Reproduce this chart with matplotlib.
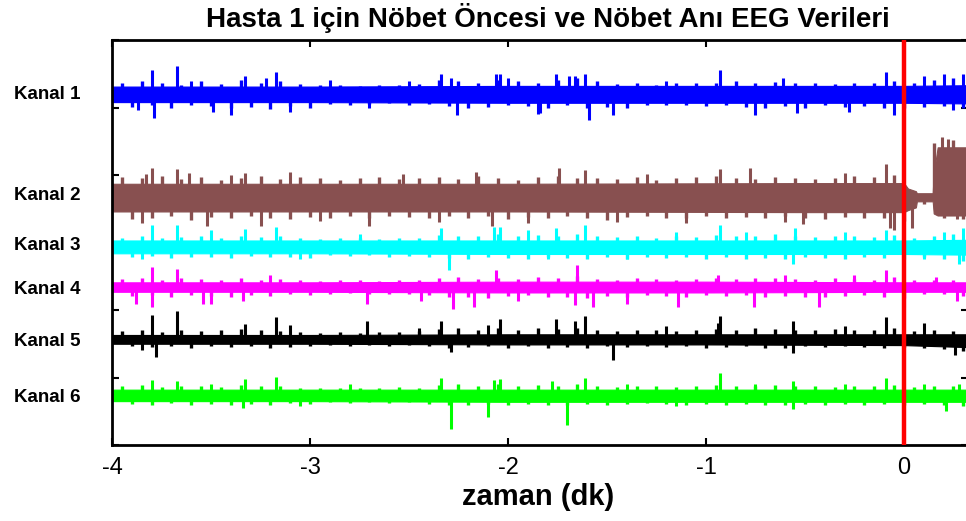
import numpy as np
import matplotlib
matplotlib.use("Agg")
import matplotlib.pyplot as plt
from matplotlib.transforms import blended_transform_factory

# ---------------- data ----------------
channel_names = ["Kanal 1", "Kanal 2", "Kanal 3", "Kanal 4", "Kanal 5", "Kanal 6"]
channel_colors = ["#0000FF", "#885050", "#00FFFF", "#FF00FF", "#000000", "#00FF00"]
baselines = [5.19, 3.67, 2.93, 2.34, 1.56, 0.73]
label_y = [5.19, 3.69, 2.95, 2.30, 1.53, 0.70]

x_ticks = [-4, -3, -2, -1, 0]
y_ticks = [0, 1, 2, 3, 4, 5, 6]
seizure_onset = 0.0

# solid core band (upper / lower half-width) per channel
env_t = [-4.0, -3.0, -2.0, -1.0, 0.0, 0.323]
ch1_up = [0.12, 0.12, 0.13, 0.13, 0.13, 0.14]
ch1_lo = [0.11, 0.11, 0.12, 0.12, 0.12, 0.13]
ch3_up = [0.10, 0.10, 0.10, 0.10, 0.10, 0.11]
ch3_lo = [0.09, 0.09, 0.10, 0.10, 0.10, 0.11]
ch4_up = [0.07, 0.07, 0.08, 0.08, 0.07, 0.07]
ch4_lo = [0.07, 0.07, 0.08, 0.08, 0.07, 0.07]
ch5_up = [0.07, 0.07, 0.08, 0.08, 0.08, 0.08]
ch5_lo = [0.06, 0.06, 0.07, 0.07, 0.08, 0.11]
ch6_up = [0.09, 0.09, 0.09, 0.09, 0.09, 0.09]
ch6_lo = [0.08, 0.08, 0.09, 0.09, 0.09, 0.09]

ch2_t = [-4.0, -2.0, -0.5, 0.0, 0.02, 0.06, 0.065, 0.145, 0.15, 0.17, 0.323]
ch2_up = [0.20, 0.20, 0.21, 0.21, 0.13, 0.09, 0.06, 0.06, 0.35, 0.74, 0.74]
ch2_lo = [0.21, 0.21, 0.22, 0.22, 0.19, 0.15, 0.06, 0.06, 0.24, 0.27, 0.27]

# fluctuation peaks every 0.1 min (up peaks at grid, down peaks half a step later)
grid_t = [-3.95, -3.85, -3.75, -3.65, -3.55, -3.45, -3.35, -3.25, -3.15, -3.05,
          -2.95, -2.85, -2.75, -2.65, -2.55, -2.45, -2.35, -2.25, -2.15, -2.05,
          -1.95, -1.85, -1.75, -1.65, -1.55, -1.45, -1.35, -1.25, -1.15, -1.05,
          -0.95, -0.85, -0.75, -0.65, -0.55, -0.45, -0.35, -0.25, -0.15, -0.05,
          0.05, 0.15, 0.25]
ch1_pk_up = [0.18, 0.20, 0.17, 0.15, 0.20, 0.16, 0.22, 0.18, 0.20, 0.16,
             0.14, 0.15, 0.13, 0.15, 0.14, 0.16, 0.22, 0.20, 0.18, 0.22,
             0.20, 0.18, 0.22, 0.24, 0.20, 0.16, 0.17, 0.15, 0.18, 0.17,
             0.18, 0.20, 0.17, 0.19, 0.18, 0.17, 0.16, 0.18, 0.17, 0.20,
             0.17, 0.22, 0.24]
ch1_pk_lo = [0.18, 0.16, 0.20, 0.15, 0.17, 0.19, 0.18, 0.21, 0.17, 0.19,
             0.14, 0.15, 0.14, 0.13, 0.15, 0.14, 0.17, 0.20, 0.18, 0.16,
             0.17, 0.20, 0.16, 0.19, 0.18, 0.20, 0.15, 0.16, 0.15, 0.17,
             0.16, 0.18, 0.20, 0.17, 0.19, 0.16, 0.18, 0.17, 0.19, 0.20,
             0.18, 0.17, 0.20]
ch2_pk_up = [0.30, 0.28, 0.32, 0.27, 0.30, 0.26, 0.29, 0.31, 0.27, 0.30,
             0.28, 0.26, 0.29, 0.30, 0.27, 0.28, 0.30, 0.27, 0.31, 0.28,
             0.26, 0.30, 0.32, 0.28, 0.29, 0.27, 0.30, 0.26, 0.28, 0.30,
             0.31, 0.29, 0.27, 0.30, 0.28, 0.27, 0.29, 0.31, 0.30, 0.33,
             0.10, 0.80, 0.85]
ch2_pk_lo = [0.32, 0.30, 0.27, 0.33, 0.29, 0.31, 0.28, 0.30, 0.32, 0.29,
             0.31, 0.28, 0.30, 0.27, 0.29, 0.31, 0.28, 0.30, 0.27, 0.32,
             0.29, 0.31, 0.28, 0.30, 0.33, 0.29, 0.27, 0.31, 0.30, 0.28,
             0.30, 0.29, 0.31, 0.28, 0.30, 0.32, 0.29, 0.31, 0.30, 0.35,
             0.10, 0.30, 0.32]
ch3_pk_up = [0.14, 0.16, 0.13, 0.15, 0.17, 0.14, 0.16, 0.15, 0.17, 0.13,
             0.12, 0.13, 0.14, 0.12, 0.14, 0.13, 0.18, 0.16, 0.17, 0.19,
             0.16, 0.18, 0.17, 0.19, 0.16, 0.15, 0.17, 0.14, 0.16, 0.15,
             0.18, 0.16, 0.17, 0.19, 0.16, 0.15, 0.17, 0.16, 0.15, 0.18,
             0.14, 0.17, 0.19]
ch3_pk_lo = [0.15, 0.13, 0.16, 0.14, 0.15, 0.16, 0.13, 0.15, 0.14, 0.16,
             0.12, 0.13, 0.12, 0.14, 0.13, 0.14, 0.16, 0.18, 0.15, 0.16,
             0.17, 0.15, 0.16, 0.18, 0.15, 0.17, 0.14, 0.16, 0.15, 0.17,
             0.15, 0.17, 0.16, 0.18, 0.15, 0.16, 0.17, 0.15, 0.16, 0.17,
             0.15, 0.17, 0.20]
ch4_pk_up = [0.12, 0.14, 0.11, 0.13, 0.12, 0.10, 0.14, 0.11, 0.12, 0.10,
             0.09, 0.10, 0.11, 0.09, 0.11, 0.10, 0.13, 0.15, 0.12, 0.14,
             0.12, 0.15, 0.13, 0.16, 0.12, 0.11, 0.13, 0.12, 0.11, 0.12,
             0.14, 0.12, 0.13, 0.14, 0.12, 0.11, 0.13, 0.12, 0.11, 0.15,
             0.11, 0.10, 0.11]
ch4_pk_lo = [0.13, 0.12, 0.14, 0.12, 0.13, 0.14, 0.12, 0.13, 0.11, 0.12,
             0.10, 0.09, 0.10, 0.11, 0.10, 0.12, 0.15, 0.14, 0.16, 0.13,
             0.12, 0.14, 0.15, 0.16, 0.13, 0.14, 0.12, 0.13, 0.15, 0.12,
             0.13, 0.12, 0.14, 0.13, 0.15, 0.14, 0.13, 0.12, 0.14, 0.16,
             0.10, 0.11, 0.13]
ch5_pk_up = [0.13, 0.15, 0.12, 0.14, 0.13, 0.15, 0.16, 0.14, 0.13, 0.12,
             0.10, 0.11, 0.10, 0.12, 0.11, 0.13, 0.16, 0.18, 0.15, 0.17,
             0.14, 0.18, 0.16, 0.17, 0.14, 0.13, 0.14, 0.15, 0.13, 0.14,
             0.16, 0.15, 0.17, 0.16, 0.14, 0.15, 0.16, 0.14, 0.15, 0.17,
             0.13, 0.14, 0.13]
ch5_pk_lo = [0.09, 0.11, 0.10, 0.12, 0.10, 0.11, 0.10, 0.12, 0.11, 0.10,
             0.08, 0.09, 0.08, 0.09, 0.08, 0.10, 0.12, 0.11, 0.10, 0.12,
             0.10, 0.12, 0.11, 0.13, 0.10, 0.11, 0.10, 0.11, 0.10, 0.12,
             0.11, 0.10, 0.13, 0.12, 0.10, 0.11, 0.10, 0.11, 0.12, 0.11,
             0.12, 0.14, 0.16]
ch6_pk_up = [0.14, 0.16, 0.13, 0.15, 0.14, 0.13, 0.16, 0.15, 0.14, 0.12,
             0.11, 0.12, 0.11, 0.12, 0.13, 0.12, 0.16, 0.17, 0.15, 0.17,
             0.14, 0.16, 0.15, 0.17, 0.14, 0.13, 0.15, 0.14, 0.13, 0.14,
             0.16, 0.15, 0.14, 0.16, 0.15, 0.14, 0.13, 0.15, 0.14, 0.16,
             0.13, 0.15, 0.14]
ch6_pk_lo = [0.12, 0.14, 0.11, 0.13, 0.12, 0.14, 0.12, 0.13, 0.11, 0.12,
             0.10, 0.11, 0.10, 0.11, 0.10, 0.12, 0.14, 0.13, 0.12, 0.14,
             0.12, 0.13, 0.14, 0.12, 0.13, 0.12, 0.11, 0.12, 0.13, 0.12,
             0.13, 0.12, 0.14, 0.13, 0.12, 0.13, 0.12, 0.13, 0.12, 0.14,
             0.12, 0.13, 0.15]

# large spikes (time, signed amplitude) per channel
ch1_spk_t = [-3.87, -3.80, -3.79, -3.67, -3.60, -3.49, -3.40, -3.33, -3.22, -3.17, -3.10,
             -2.90, -2.70, -2.50, -2.34, -2.29, -2.26, -2.06, -2.04, -2.00, -1.85, -1.84,
             -1.76, -1.69, -1.66, -1.61, -1.59, -1.47, -1.20, -0.93, -0.75, -0.61, -0.54,
             -0.28, -0.09, -0.05, 0.10, 0.20, 0.25, 0.30]
ch1_spk_a = [-0.23, 0.37, -0.34, 0.43, 0.20, -0.25, -0.30, 0.27, 0.25, 0.33, -0.25,
             0.22, -0.20, 0.20, 0.30, 0.25, -0.30, 0.30, 0.30, 0.25, -0.28, -0.27,
             0.30, 0.28, 0.28, 0.30, -0.37, -0.30, 0.20, 0.37, -0.30, 0.25, -0.27,
             -0.25, 0.33, -0.30, 0.27, 0.30, -0.22, 0.30]

ch2_spk_t = [-3.85, -3.83, -3.80, -3.67, -3.61, -3.52, -3.40, -3.33, -3.25, -3.10, -2.95,
             -2.70, -2.53, -2.35, -2.16, -2.08, -1.90, -1.74, -1.61, -1.45, -1.30, -1.10,
             -0.93, -0.78, -0.60, -0.51, -0.30, -0.09, -0.07, -0.05, 0.04, 0.19, 0.22, 0.27]
ch2_spk_a = [-0.38, 0.35, 0.43, 0.42, 0.36, -0.42, 0.33, 0.36, -0.43, 0.37, -0.35,
             -0.43, 0.35, -0.36, 0.37, -0.43, -0.38, 0.43, 0.40, -0.36, 0.35, -0.38,
             0.42, 0.43, -0.36, -0.40, 0.36, 0.49, -0.46, -0.48, -0.45, 0.90, 0.86, -0.32]

ch3_spk_t = [-3.85, -3.80, -3.67, -3.50, -3.33, -3.17, -3.05, -2.75, -2.34, -2.30, -2.07,
             -2.04, -1.90, -1.80, -1.76, -1.61, -1.40, -1.15, -0.93, -0.80, -0.56, -0.55,
             -0.30, -0.09, 0.10, 0.20, 0.28, 0.30]
ch3_spk_a = [-0.17, 0.33, 0.33, 0.25, 0.27, 0.30, -0.17, 0.20, 0.28, -0.33, 0.30,
             0.30, 0.25, -0.18, 0.28, 0.33, -0.18, 0.22, 0.33, 0.22, -0.25, 0.28,
             0.22, 0.25, -0.18, 0.22, -0.25, 0.28]

ch4_spk_t = [-3.88, -3.80, -3.80, -3.67, -3.54, -3.50, -3.34, -3.20, -2.71, -2.44, -2.28,
             -2.17, -2.06, -1.95, -1.66, -1.65, -1.57, -1.40, -1.14, -0.94, -0.76, -0.60,
             -0.43, -0.25, -0.09, 0.00, 0.16, 0.27]
ch4_spk_a = [-0.25, 0.30, -0.30, 0.27, -0.25, -0.25, -0.20, 0.18, -0.25, -0.20, -0.33,
             -0.30, 0.25, -0.20, -0.27, 0.33, -0.30, -0.25, -0.30, 0.18, -0.30, 0.18,
             -0.30, 0.18, 0.25, -0.30, 0.15, -0.20]

ch5_spk_t = [-3.85, -3.80, -3.78, -3.67, -3.33, -3.17, -3.10, -2.71, -2.45, -2.34, -2.29,
             -2.10, -2.04, -1.76, -1.66, -1.61, -1.47, -1.20, -0.94, -0.93, -0.56, -0.56,
             -0.30, -0.09, 0.10, 0.26]
ch5_spk_a = [-0.15, 0.37, -0.25, 0.42, 0.23, 0.33, 0.22, 0.27, 0.18, 0.28, -0.18,
             0.22, 0.30, 0.30, 0.28, 0.35, -0.30, 0.20, 0.25, 0.35, 0.27, -0.20,
             0.20, 0.33, 0.25, -0.22]

ch6_spk_t = [-3.80, -3.67, -3.50, -3.34, -3.33, -3.17, -3.05, -2.80, -2.34, -2.29, -2.10,
             -2.07, -2.04, -1.78, -1.70, -1.61, -1.40, -1.15, -0.93, -0.75, -0.56, -0.56,
             -0.30, -0.09, 0.10, 0.21, 0.28]
ch6_spk_a = [0.24, 0.22, 0.18, -0.18, 0.25, 0.28, -0.15, 0.18, 0.27, -0.50, -0.31,
             0.24, 0.25, 0.22, -0.43, 0.27, 0.18, -0.15, 0.34, 0.18, 0.22, -0.20,
             0.18, 0.27, 0.18, -0.22, 0.18]

env_up = [ch1_up, ch2_up, ch3_up, ch4_up, ch5_up, ch6_up]
env_lo = [ch1_lo, ch2_lo, ch3_lo, ch4_lo, ch5_lo, ch6_lo]
env_times = [env_t, ch2_t, env_t, env_t, env_t, env_t]
pk_up = [ch1_pk_up, ch2_pk_up, ch3_pk_up, ch4_pk_up, ch5_pk_up, ch6_pk_up]
pk_lo = [ch1_pk_lo, ch2_pk_lo, ch3_pk_lo, ch4_pk_lo, ch5_pk_lo, ch6_pk_lo]
spk_t = [ch1_spk_t, ch2_spk_t, ch3_spk_t, ch4_spk_t, ch5_spk_t, ch6_spk_t]
spk_a = [ch1_spk_a, ch2_spk_a, ch3_spk_a, ch4_spk_a, ch5_spk_a, ch6_spk_a]

# ---------------- figure ----------------
plt.rcParams["font.family"] = ["Liberation Sans", "DejaVu Sans"]
fig = plt.figure(figsize=(9.66, 5.21), dpi=100)
ax_left, ax_right_px = 112 / 966, 968 / 966
ax = fig.add_axes([ax_left, 1 - 445 / 521, ax_right_px - ax_left, 405 / 521])

gt = np.array(grid_t)
for i in range(6):
    base = baselines[i]
    col = channel_colors[i]
    t = np.array(env_times[i])
    ax.fill_between(t, base + np.array(env_up[i]), base - np.array(env_lo[i]),
                    color=col, lw=0.8, edgecolor=col, zorder=2)
    # vertical strokes at the fluctuation peaks
    ax.vlines(gt, base, base + np.array(pk_up[i]), color=col, lw=2.4, zorder=2)
    ax.vlines(gt + 0.05, base, base - np.array(pk_lo[i]), color=col, lw=2.4, zorder=2)
    ax.vlines(np.array(spk_t[i]), base, base + np.array(spk_a[i]), color=col,
              lw=2.2, zorder=2)

ax.axvline(seizure_onset, color="#FF0000", lw=3.2, zorder=5)

ax.set_xlim(-4, -4 + (968 - 112) / 198)
ax.set_ylim(0, 6)
ax.set_xticks(x_ticks)
ax.set_xticklabels([str(v) for v in x_ticks])
ax.set_yticks(y_ticks)
ax.set_yticklabels([])
ax.tick_params(axis="x", direction="in", top=True, bottom=True, length=5, width=1.5,
               labelsize=17, pad=9)
ax.tick_params(axis="y", direction="in", left=True, right=True, length=5, width=1.5)
for s in ax.spines.values():
    s.set_linewidth(2.0)

trans = blended_transform_factory(fig.transFigure, ax.transData)
for name, yl in zip(channel_names, label_y):
    ax.text(47 / 966, yl, name, transform=trans, ha="center", va="center",
            fontsize=13.5, fontweight="bold")

fig.text(548 / 966, 1 - 18 / 521, "Hasta 1 için Nöbet Öncesi ve Nöbet Anı EEG Verileri",
         ha="center", va="center", fontsize=20, fontweight="bold")
fig.text(538 / 966, 1 - 497 / 521, "zaman (dk)", ha="center", va="center",
         fontsize=21, fontweight="bold")

fig.savefig("out.png", dpi=100)
